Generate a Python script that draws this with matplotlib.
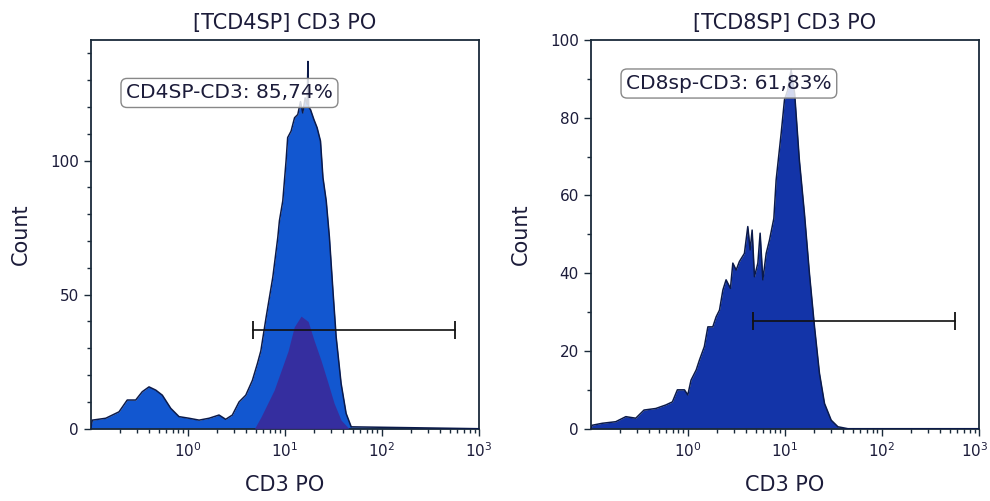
import matplotlib
matplotlib.use("Agg")
from matplotlib import pyplot as plt
from matplotlib import transforms
from matplotlib.ticker import MultipleLocator, LogLocator, NullFormatter

# ---- data ----
cd4_x = [0.1, 0.104, 0.143, 0.196, 0.238, 0.291, 0.340, 0.399, 0.468, 0.547, 0.668, 0.813,
         1.03, 1.31, 1.66, 2.10, 2.46, 2.88, 3.38, 3.96, 4.63, 5.22,
         5.66, 6.42, 7.52, 8.47, 8.80, 9.53, 10.3, 10.7, 11.6, 12.6,
         13.6, 14.5, 15.3, 16.2, 17.0, 17.3, 17.6, 18.4, 19.9, 21.5, 23.3, 24.7,
         26.7, 28.8, 31.3, 33.8, 38.0, 42.8, 48.3, 1000]
cd4_y = [0, 3.2, 3.9, 6.3, 10.7, 10.7, 13.8, 15.6, 14.4, 12.5, 7.6, 4.5,
         3.9, 3.2, 3.9, 5.1, 3.5, 5.1, 10, 12.5, 18, 24.3,
         29, 41.6, 56.5, 71.4, 77.6, 85, 99.9, 108.6, 111, 116,
         117.2, 122, 117.8, 123.4, 121, 137, 120, 119, 115.4, 112.3, 107.3, 93.7,
         85, 71.4, 51.6, 34.2, 16.9, 5.7, 0.7, 0]

cd4_gated_x = [4.86, 5.7, 7.76, 10.8, 12.5, 14.7, 17.4, 20.0, 23.6, 27.9, 32.2, 38, 46]
cd4_gated_y = [0, 4.5, 14.4, 29, 38, 42, 40, 33, 25.5, 17, 9.5, 3.2, 0]

cd8_x = [0.1, 0.104, 0.132, 0.181, 0.230, 0.291, 0.354, 0.468, 0.593, 0.694, 0.781,
         0.923, 1.0, 1.08, 1.22, 1.32, 1.48, 1.61, 1.81, 1.96, 2.12,
         2.30, 2.48, 2.75, 2.91, 3.15, 3.40, 3.83, 4.15, 4.39, 4.60,
         4.86, 5.27, 5.56, 5.93, 6.42, 6.94, 7.70, 8.13,
         9.16, 9.91, 10.7, 11.6, 12.6, 14.1, 15.9, 17.9, 20.2, 22.7,
         25.6, 30.0, 35.2, 44.6, 1000]
cd8_y = [0, 0.9, 1.4, 1.8, 3.1, 2.7, 4.8, 5.2, 6.1, 6.9, 10,
         10, 8.7, 12.5, 15.1, 17.7, 21.1, 26.2, 26.2, 28.8, 30.5,
         35.7, 38.3, 36.1, 42.6, 40.8, 43, 45.1, 52, 46, 51.1,
         39.1, 42.6, 50.3, 38.3, 45.1, 48.5, 54.1, 64,
         76, 84.6, 87.1, 92.3, 86.3, 69.1, 55.4, 40, 26.2, 14.3,
         6.5, 2.2, 0.5, 0, 0]

titles = ["[TCD4SP] CD3 PO", "[TCD8SP] CD3 PO"]
labels = ["CD4SP-CD3: 85,74%", "CD8sp-CD3: 61,83%"]
gate_x = [4.7, 570]
gate_y = [36.7, 27.7]
ymax = [145, 100]
ymajor = [50, 20]
label_y = [0.8637, 0.888]

text_col = "#1c1c3a"
edge_col = "#0b1a4a"
spine_col = "#1a2a3a"

fig = plt.figure(figsize=(9.9, 5.01), dpi=100)
ax1 = fig.add_axes([0.0916, 0.1443, 0.3922, 0.7759])
ax2 = fig.add_axes([0.5967, 0.1443, 0.3922, 0.7759])

ax1.fill_between(cd4_x, cd4_y, color="#1257d0", lw=0, zorder=2)
ax1.plot(cd4_x, cd4_y, color=edge_col, lw=1.1, zorder=3)
ax1.fill_between(cd4_gated_x, cd4_gated_y, color="#3a2a9a", alpha=0.9, lw=0, zorder=4)

ax2.fill_between(cd8_x, cd8_y, color="#1334a8", lw=0, zorder=2)
ax2.plot(cd8_x, cd8_y, color=edge_col, lw=1.1, zorder=3)

for i, ax in enumerate([ax1, ax2]):
    ax.set_xscale("log")
    ax.set_xlim(0.1, 1000)
    ax.set_ylim(0, ymax[i])
    ax.xaxis.set_major_locator(LogLocator(base=10, subs=(1.0,)))
    ax.xaxis.set_minor_locator(LogLocator(base=10, subs=range(2, 10)))
    ax.xaxis.set_minor_formatter(NullFormatter())
    ax.set_xticks([1, 10, 100, 1000])
    ax.yaxis.set_major_locator(MultipleLocator(ymajor[i]))
    ax.yaxis.set_minor_locator(MultipleLocator(10))
    ax.tick_params(which="major", length=5, width=1, colors=spine_col,
                   labelcolor=text_col, labelsize=11)
    ax.tick_params(which="minor", length=3, width=1, colors=spine_col)
    ax.tick_params(axis="x", which="major", pad=4)
    for s in ax.spines.values():
        s.set_color(spine_col)
        s.set_linewidth(1.3)
    ax.set_title(titles[i], fontsize=15, color=text_col, pad=8)
    ax.set_xlabel("CD3 PO", fontsize=15, color=text_col, labelpad=11)
    ax.set_ylabel("Count", fontsize=15, color=text_col, labelpad=14)
    ax.plot(gate_x, [gate_y[i], gate_y[i]], color="#111111", lw=1.2,
            marker="|", markersize=13, mew=1.3, zorder=6)
    ax.text(0.091, label_y[i], labels[i], transform=ax.transAxes,
            fontsize=14.5, color=text_col, zorder=7, va="center",
            bbox=dict(boxstyle="round,pad=0.25,rounding_size=0.3",
                      fc=(1, 1, 1, 0.82), ec="#888888", lw=1))

# keep the last x tick label of the right panel inside the figure
fig.canvas.draw()
last = ax2.get_xticklabels()[-1]
last.set_transform(last.get_transform() +
                   transforms.ScaledTranslation(-3 / 72, 0, fig.dpi_scale_trans))

fig.savefig("out.png", dpi=100)
